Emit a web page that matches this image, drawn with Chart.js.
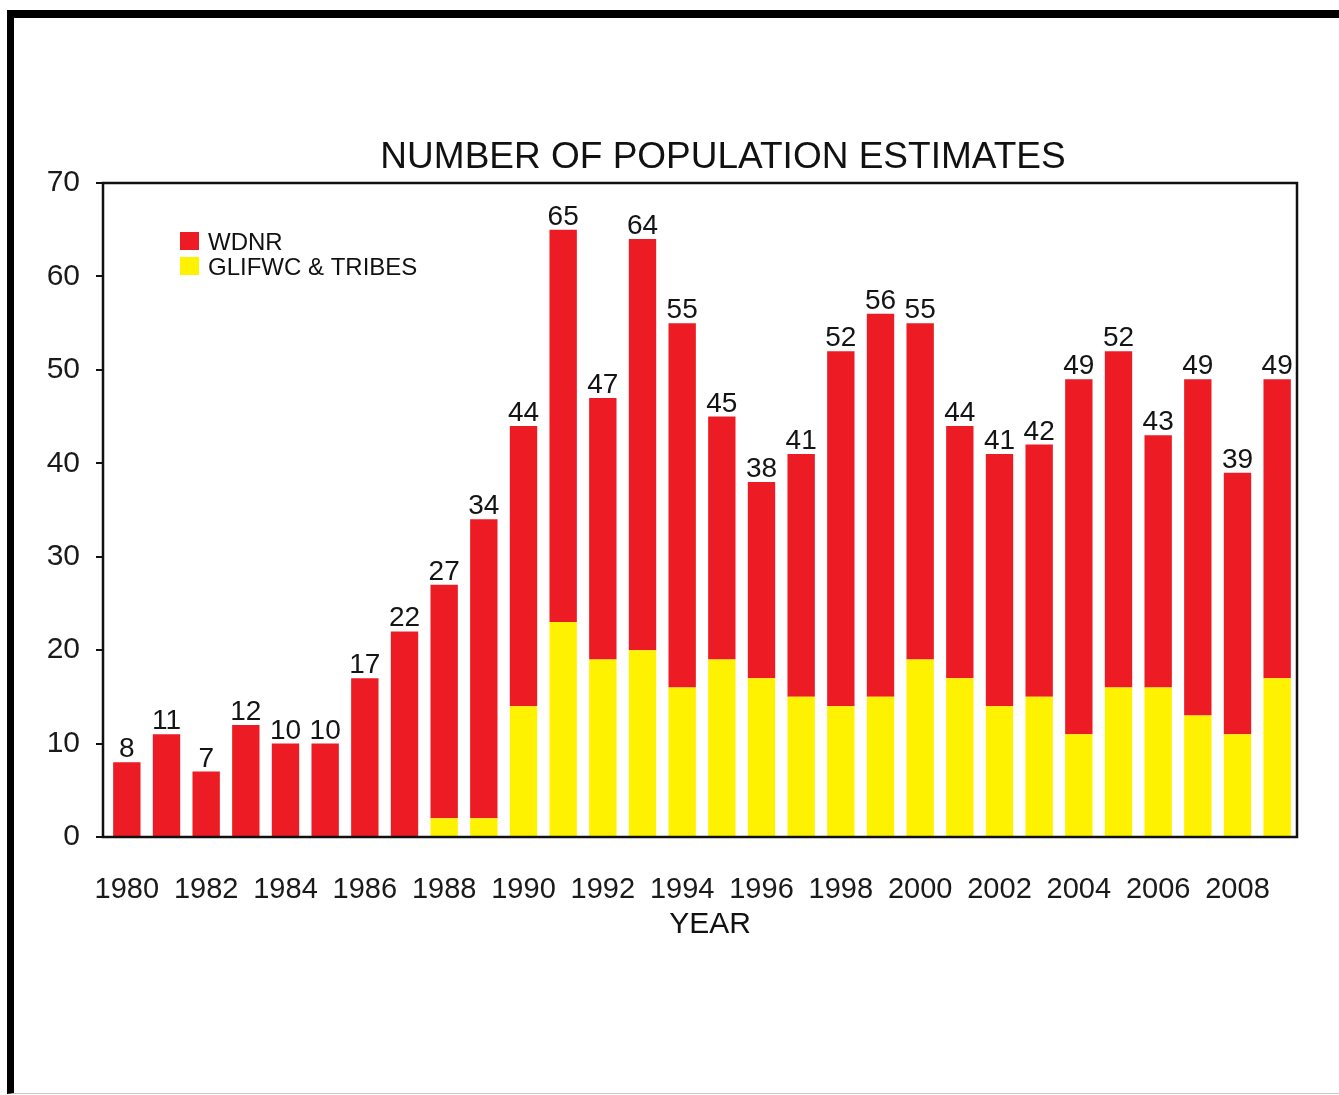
<!DOCTYPE html>
<html>
<head>
<meta charset="utf-8">
<title>Number of Population Estimates</title>
<script src="https://cdn.jsdelivr.net/npm/chart.js@4/dist/chart.umd.min.js"></script>
<style>
  html, body { margin: 0; padding: 0; background: #fff; }
  body { width: 1339px; height: 1095px; position: relative; overflow: hidden; }
  #frame {
    position: absolute; left: 7px; top: 10px; right: 0; bottom: 1px;
    border-top: 8px solid #000; border-left: 7px solid #000;
    border-bottom: 1px solid #c8c8c8;
  }
  #chartBox { position: absolute; left: 0; top: 0; }
</style>
</head>
<body>
<div id="frame"></div>
<div id="chartBox"><canvas id="estChart" width="1339" height="1095"></canvas></div>
<script>
// survey years
const years = [1980, 1981, 1982, 1983, 1984, 1985, 1986, 1987, 1988, 1989,
               1990, 1991, 1992, 1993, 1994, 1995, 1996, 1997, 1998, 1999,
               2000, 2001, 2002, 2003, 2004, 2005, 2006, 2007, 2008, 2009];

// estimates done by WDNR
const wdnr = [8, 11, 7, 12, 10, 10, 17, 22, 25, 32,
              30, 42, 28, 44, 39, 26, 21, 26, 38, 41,
              36, 27, 27, 27, 38, 36, 27, 36, 28, 32];

// estimates done by GLIFWC & tribes
const glifwc = [0, 0, 0, 0, 0, 0, 0, 0, 2, 2,
                14, 23, 19, 20, 16, 19, 17, 15, 14, 15,
                19, 17, 14, 15, 11, 16, 16, 13, 11, 17];

const yTicks = [0, 10, 20, 30, 40, 50, 60, 70];

const RED = '#ed1c24';
const YELLOW = '#fff200';
const FONT = '"Liberation Sans", Arial, Helvetica, sans-serif';
const BOX_GAP = 4; // plot frame sits a little left of the first bar slot

// title, legend, axis title, totals and plot box
const decorations = {
    id: 'decorations',
    afterDatasetsDraw(chart) {
        const ctx = chart.ctx;
        const area = chart.chartArea;
        const yScale = chart.scales.y;
        const boxLeft = area.left - BOX_GAP;
        ctx.save();

        // totals over each stacked bar
        const topMeta = chart.getDatasetMeta(1);
        ctx.fillStyle = '#141414';
        ctx.font = '28px ' + FONT;
        ctx.textAlign = 'center';
        ctx.textBaseline = 'alphabetic';
        topMeta.data.forEach((bar, i) => {
            const total = wdnr[i] + glifwc[i];
            ctx.fillText(String(total), bar.x, bar.y - 5);
        });

        // box round the plot
        ctx.strokeStyle = '#111';
        ctx.lineWidth = 2.5;
        ctx.strokeRect(boxLeft, area.top, area.right - boxLeft, area.bottom - area.top);

        // y tick marks outside the box
        ctx.lineWidth = 2;
        ctx.beginPath();
        yTicks.forEach(v => {
            const py = Math.round(yScale.getPixelForValue(v));
            ctx.moveTo(boxLeft - 7, py);
            ctx.lineTo(boxLeft, py);
        });
        ctx.stroke();

        // title
        ctx.fillStyle = '#111';
        ctx.font = '37px ' + FONT;
        ctx.textAlign = 'center';
        ctx.fillText('NUMBER OF POPULATION ESTIMATES', 723, 168);

        // axis title
        ctx.font = '30px ' + FONT;
        ctx.fillText('YEAR', 710, 933);

        // legend, red first
        const items = [chart.data.datasets[1], chart.data.datasets[0]];
        ctx.font = '24px ' + FONT;
        ctx.textAlign = 'left';
        items.forEach((ds, k) => {
            const y = 232 + k * 25;
            ctx.fillStyle = ds.backgroundColor;
            ctx.fillRect(180, y, 19, 18);
            ctx.fillStyle = '#111';
            ctx.fillText(ds.label, 208, y + 18);
        });
        ctx.restore();
    }
};

const ctx = document.getElementById('estChart').getContext('2d');
const chart = new Chart(ctx, {
    type: 'bar',
    data: {
        labels: years,
        datasets: [
            {
                label: 'GLIFWC & TRIBES',
                data: glifwc,
                backgroundColor: YELLOW,
                borderWidth: 0,
                categoryPercentage: 1,
                barPercentage: 0.69
            },
            {
                label: 'WDNR',
                data: wdnr,
                backgroundColor: RED,
                borderWidth: 0,
                categoryPercentage: 1,
                barPercentage: 0.69
            }
        ]
    },
    options: {
        responsive: false,
        devicePixelRatio: 1,
        animation: false,
        layout: { padding: { top: 183, right: 42, left: 0, bottom: 0 } },
        plugins: {
            legend: { display: false },
            title: { display: false },
            tooltip: { enabled: false }
        },
        scales: {
            x: {
                stacked: true,
                grid: { display: false },
                border: { display: false },
                ticks: {
                    color: '#1a1a1a',
                    font: { family: FONT, size: 29 },
                    padding: 28,
                    maxRotation: 0,
                    autoSkip: false,
                    callback: function(value, index) {
                        return index % 2 === 0 ? years[index] : '';
                    }
                },
                afterFit: function(scale) { scale.height = 258; }
            },
            y: {
                stacked: true,
                min: 0,
                max: 70,
                grid: { display: false },
                border: { display: false },
                afterBuildTicks: function(scale) {
                    scale.ticks = yTicks.map(v => ({ value: v }));
                },
                ticks: {
                    color: '#1a1a1a',
                    font: { family: FONT, size: 30 },
                    padding: 19
                },
                afterFit: function(scale) { scale.width = 103 + BOX_GAP; }
            }
        }
    },
    plugins: [decorations]
});
</script>
</body>
</html>
